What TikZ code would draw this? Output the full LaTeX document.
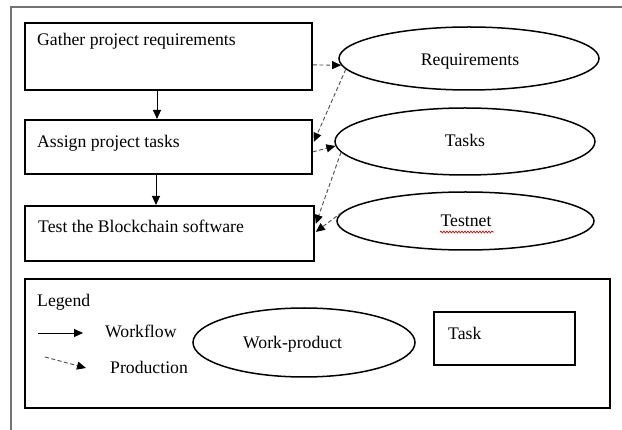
\documentclass[tikz,border=0pt]{standalone}
\usepackage{fontspec}
\setmainfont{Liberation Serif}
\usetikzlibrary{shapes.geometric,arrows.meta,calc,decorations.pathmorphing}

\begin{document}
\begin{tikzpicture}[x=1pt,y=-1pt,
  txt/.style={inner sep=0pt,font=\fontsize{17.7}{21}\selectfont},
  taskbox/.style={draw,rectangle,line width=1.8pt,inner sep=0pt,anchor=north west},
  workprod/.style={draw,ellipse,line width=1.5pt,inner sep=0pt},
  flow/.style={-{Triangle[length=9pt,width=8pt]},line width=0.9pt},
  produce/.style={-{Triangle[length=9pt,width=8pt,color=black]},line width=0.9pt,
    draw=black!70,dash pattern=on 4pt off 2.5pt},
  frameline/.style={draw=black!55,line width=1.3pt},
  squiggle/.style={draw=red!85!black,line width=0.7pt,
    decorate,decoration={snake,segment length=3pt,amplitude=0.9pt}}
]
\useasboundingbox (0,0) rectangle (622,430);

% page frame (top and left edges)
\coordinate (frTR) at (622,7);
\coordinate (frTL) at (11,7);
\coordinate (frBL) at (11,430);
\draw[frameline] (frTR) -- (frTL) -- (frBL);

% process steps
\node[taskbox,minimum width=287pt,minimum height=67pt] (b1) at (24,22) {};
\node[taskbox,minimum width=287pt,minimum height=54pt] (b2) at (24,119) {};
\node[taskbox,minimum width=289pt,minimum height=55pt] (b3) at (24,205) {};
\node[txt,anchor=base west] (t1) at (37,46) {Gather project requirements};
\node[txt,anchor=base west] (t2) at (37,148) {Assign project tasks};
\node[txt,anchor=base west] (t3) at (38,233) {Test the Blockchain software};

% work products
\node[workprod,minimum width=260pt,minimum height=63pt] (req) at (469,58.5) {};
\node[workprod,minimum width=260pt,minimum height=67pt] (tsk) at (465,141.5) {};
\node[workprod,minimum width=257pt,minimum height=58pt] (tn) at (465.5,221) {};
\node[txt,anchor=base] (reqt) at (470,66) {Requirements};
\node[txt,anchor=base] (tskt) at (465,147) {Tasks};
\node[txt,anchor=base] (tnt) at (466,227) {Testnet};
\draw[squiggle] ([shift={(-26,5)}]tnt.base) -- ([shift={(28,5)}]tnt.base);

% workflow
\draw[flow] ([xshift=133pt]b1.south west) -- ([xshift=133pt]b2.north west);
\draw[flow] ([xshift=132pt]b2.south west) -- ([xshift=132pt]b3.north west);

% production
\draw[produce] ($(b1.east)+(0,8.5)$) -- (req.183);
\draw[produce] (req.185) -- ($(b2.east)+(1,-5)$);
\draw[produce] ($(b2.east)+(0,5)$) -- (tsk.182);
\draw[produce] (tsk.185) -- ($(b3.east)+(1,-9.5)$);
\draw[produce] (tn.176) -- ($(b3.east)+(1,-1.5)$);

% legend
\node[taskbox,minimum width=585pt,minimum height=129pt] (leg) at (24,278) {};
\node[txt,anchor=base west] (legt) at (37,307) {Legend};
\coordinate (wfA) at (38,333);
\coordinate (wfB) at (83,333);
\draw[flow] (wfA) -- (wfB);
\node[txt,anchor=base west] (wft) at (105,338) {Workflow};
\coordinate (prA) at (45,357);
\coordinate (prB) at (86,368);
\draw[produce] (prA) -- (prB);
\node[txt,anchor=base west] (prt) at (110,374) {Production};
\node[workprod,minimum width=222pt,minimum height=69pt] (wp) at (304,342.5) {};
\node[txt,anchor=base west] (wpt) at (243,349) {Work-product};
\node[taskbox,line width=1.6pt,minimum width=141pt,minimum height=53pt] (tk) at (433,311) {};
\node[txt,anchor=base west] (tkt) at (448,340) {Task};
\end{tikzpicture}
\end{document}
